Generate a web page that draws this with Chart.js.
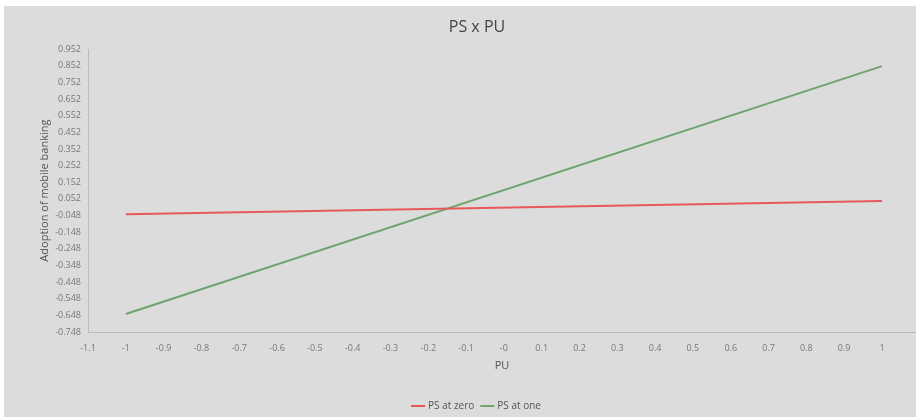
<!DOCTYPE html>
<html>
<head>
<meta charset="utf-8">
<script src="https://cdn.jsdelivr.net/npm/chart.js@4"></script>
<style>
  html, body { margin: 0; padding: 0; background: #fff; }
  #box { position: absolute; left: 4px; top: 6px; width: 912px; height: 411px; background: #dcdcdc; }
</style>
</head>
<body>
<div id="box"><canvas id="chart"></canvas></div>
<script>
// data
const puValues = [-1, 1];
const psZero = [-0.04, 0.04];
const psOne = [-0.64, 0.85];

const xTicks = [-1.1, -1, -0.9, -0.8, -0.7, -0.6, -0.5, -0.4, -0.3, -0.2, -0.1, 0, 0.1, 0.2, 0.3, 0.4, 0.5, 0.6, 0.7, 0.8, 0.9, 1];
const xTickLabels = ['-1.1', '-1', '-0.9', '-0.8', '-0.7', '-0.6', '-0.5', '-0.4', '-0.3', '-0.2', '-0.1', '-0', '0.1', '0.2', '0.3', '0.4', '0.5', '0.6', '0.7', '0.8', '0.9', '1'];
const yTicks = [-0.748, -0.648, -0.548, -0.448, -0.348, -0.248, -0.148, -0.048, 0.052, 0.152, 0.252, 0.352, 0.452, 0.552, 0.652, 0.752, 0.852, 0.952];

const font = "'Open Sans', 'Noto Sans', sans-serif";

// major + minor ticks on the y axis (minor ones get no label)
const yAll = [];
yTicks.forEach((v, i) => {
  yAll.push({ value: v, major: true });
  if (i < yTicks.length - 1) yAll.push({ value: +(v + 0.05).toFixed(3), major: false });
});

new Chart(document.getElementById('chart'), {
  type: 'line',
  data: {
    datasets: [{
      label: 'PS at zero',
      data: puValues.map((x, i) => ({ x: x, y: psZero[i] })),
      borderColor: '#e8585b',
      backgroundColor: '#e8585b',
      borderWidth: 2,
      pointRadius: 0
    }, {
      label: 'PS at one',
      data: puValues.map((x, i) => ({ x: x, y: psOne[i] })),
      borderColor: '#6ea46e',
      backgroundColor: '#6ea46e',
      borderWidth: 2,
      pointRadius: 0
    }]
  },
  options: {
    responsive: true,
    maintainAspectRatio: false,
    animation: false,
    layout: { padding: { left: 34, right: 0, top: 0, bottom: -4 } },
    plugins: {
      title: {
        display: true,
        text: 'PS x PU',
        color: '#444',
        font: { family: font, size: 16, weight: 'normal' },
        padding: { top: 12, bottom: 12 }
      },
      legend: {
        position: 'bottom',
        labels: {
          color: '#555',
          font: { family: font, size: 10 },
          usePointStyle: true,
          pointStyle: 'line',
          boxWidth: 12,
          padding: 8
        }
      },
      tooltip: { enabled: false }
    },
    scales: {
      x: {
        type: 'linear',
        min: -1.1,
        max: 1.09,
        afterBuildTicks: s => { s.ticks = xTicks.map(v => ({ value: v })); },
        afterFit: s => { s.height = 61; },
        grid: { display: false, drawTicks: true, tickLength: 5, tickColor: '#bbb' },
        border: { color: '#bbb' },
        ticks: {
          color: '#777',
          font: { family: font, size: 9 },
          maxRotation: 0,
          autoSkip: false,
          padding: 6,
          callback: (v, i) => xTickLabels[i]
        },
        title: {
          display: true,
          text: 'PU',
          color: '#555',
          font: { family: font, size: 11 },
          padding: { top: 2, bottom: 21 }
        }
      },
      y: {
        min: -0.748,
        max: 0.952,
        afterBuildTicks: s => { s.ticks = yAll.map(t => ({ value: t.value, major: t.major })); },
        afterFit: s => { s.width = 50; },
        grid: {
          display: false,
          drawTicks: true,
          tickLength: 5,
          tickColor: '#bbb'
        },
        border: { color: '#bbb' },
        ticks: {
          color: '#777',
          font: { family: font, size: 9 },
          autoSkip: false,
          padding: 2,
          callback: (v, i) => (yAll[i] && yAll[i].major) ? yAll[i].value.toFixed(3) : ''
        },
        title: {
          display: true,
          text: 'Adoption of mobile banking',
          color: '#555',
          font: { family: font, size: 11 },
          padding: 0
        }
      }
    }
  }
});
</script>
</body>
</html>
